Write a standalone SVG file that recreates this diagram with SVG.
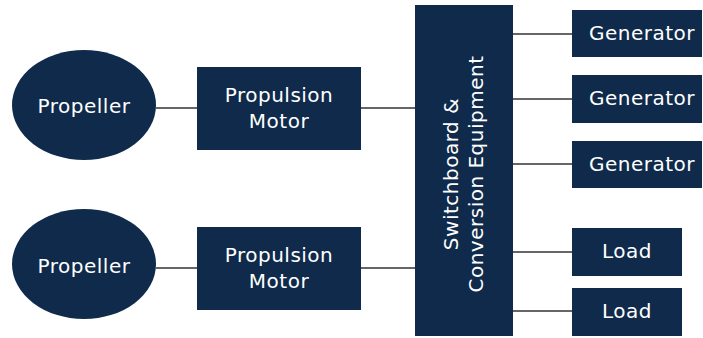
<svg xmlns="http://www.w3.org/2000/svg" width="703" height="338" viewBox="0 0 703 338">
<style>
.n{fill:#0f2a4b}
.t{fill:#ffffff;font-family:"DejaVu Sans",sans-serif;font-size:20px;letter-spacing:0.5px;text-anchor:middle}
.c{stroke:#333333;stroke-width:1.5;fill:none}
</style>
<rect width="703" height="338" fill="#ffffff"/>
<g id="connectors">
<line class="c" x1="156" y1="108" x2="197" y2="108"/>
<line class="c" x1="361" y1="108" x2="415" y2="108"/>
<line class="c" x1="156" y1="268" x2="197" y2="268"/>
<line class="c" x1="361" y1="268" x2="415" y2="268"/>
<line class="c" x1="513" y1="34" x2="572" y2="34"/>
<line class="c" x1="513" y1="99" x2="572" y2="99"/>
<line class="c" x1="513" y1="164" x2="572" y2="164"/>
<line class="c" x1="513" y1="252" x2="572" y2="252"/>
<line class="c" x1="513" y1="311" x2="572" y2="311"/>
</g>
<g id="propeller1">
<ellipse class="n" cx="84" cy="105" rx="72" ry="55"/>
<text class="t" x="84" y="113">Propeller</text>
</g>
<g id="propeller2">
<ellipse class="n" cx="84" cy="264" rx="72" ry="55"/>
<text class="t" x="84" y="273">Propeller</text>
</g>
<g id="motor1">
<rect class="n" x="197" y="67" width="164" height="83"/>
<text class="t" x="279" y="102">Propulsion</text>
<text class="t" x="279" y="128">Motor</text>
</g>
<g id="motor2">
<rect class="n" x="197" y="227" width="164" height="83"/>
<text class="t" x="279" y="262">Propulsion</text>
<text class="t" x="279" y="288">Motor</text>
</g>
<g id="switchboard">
<rect class="n" x="415" y="5" width="98" height="331"/>
<text class="t" transform="translate(458,174) rotate(-90)">Switchboard &amp;</text>
<text class="t" transform="translate(483,174) rotate(-90)">Conversion Equipment</text>
</g>
<g id="generator1">
<rect class="n" x="572" y="10" width="130" height="47"/>
<text class="t" x="642" y="40">Generator</text>
</g>
<g id="generator2">
<rect class="n" x="572" y="75" width="130" height="48"/>
<text class="t" x="642" y="105">Generator</text>
</g>
<g id="generator3">
<rect class="n" x="572" y="141" width="130" height="47"/>
<text class="t" x="642" y="171">Generator</text>
</g>
<g id="load1">
<rect class="n" x="572" y="228" width="110" height="48"/>
<text class="t" x="627" y="258">Load</text>
</g>
<g id="load2">
<rect class="n" x="572" y="288" width="110" height="48"/>
<text class="t" x="627" y="318">Load</text>
</g>
</svg>
